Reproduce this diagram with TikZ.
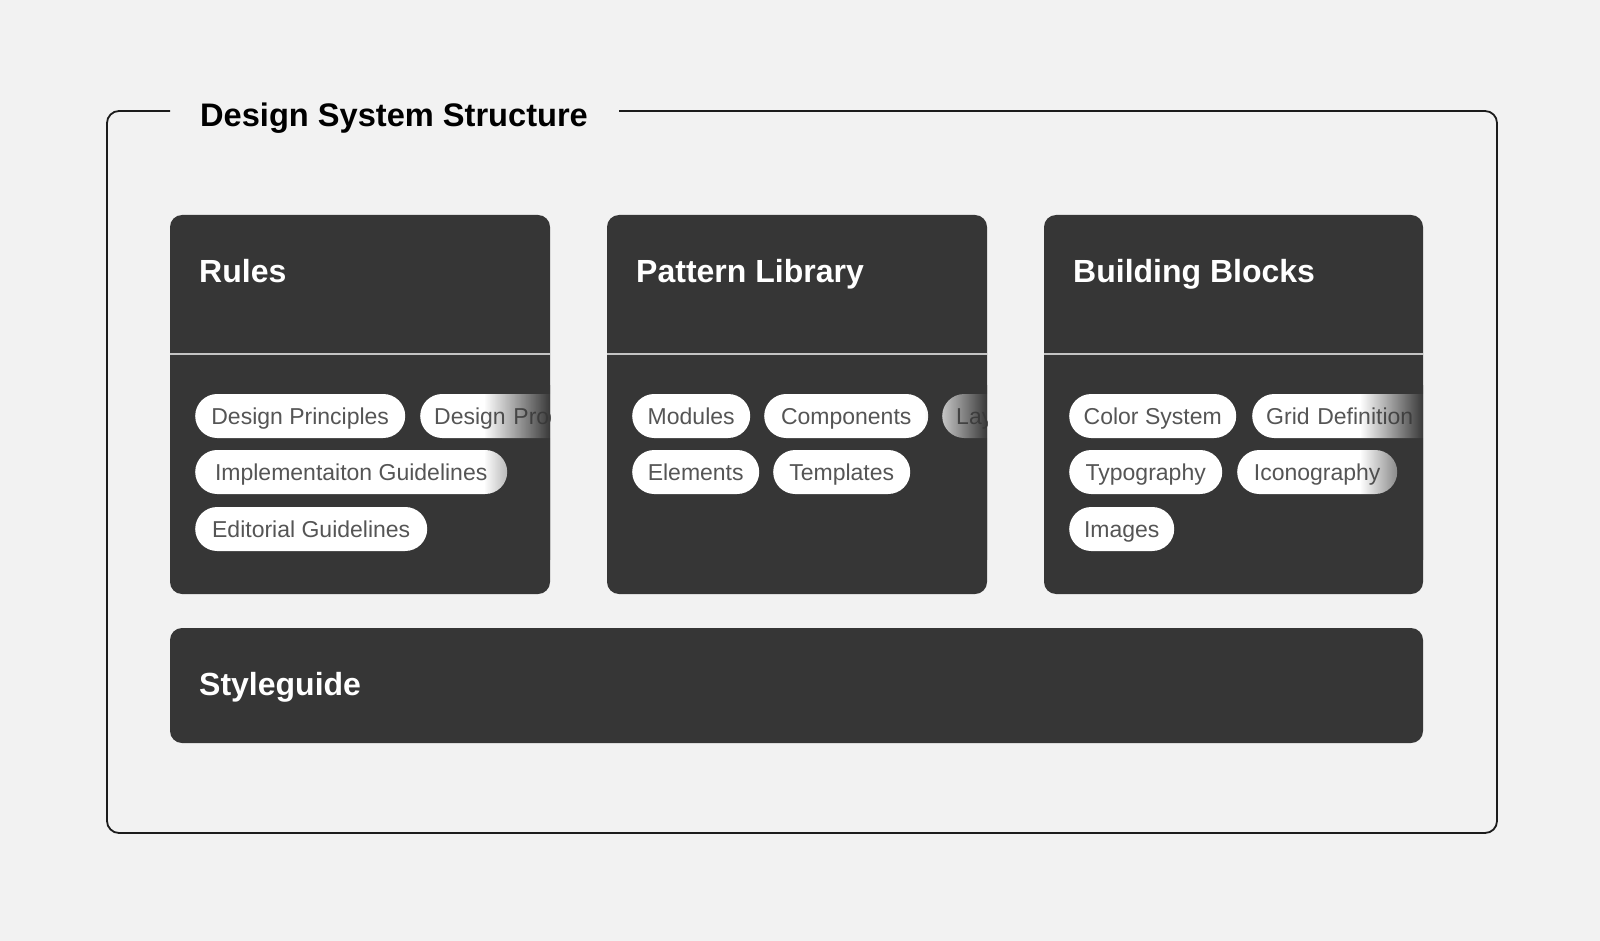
\documentclass[tikz,border=0pt]{standalone}
\usepackage{fontspec}
\setmainfont{Liberation Sans}
\usetikzlibrary{fadings}
\definecolor{bgc}{HTML}{F2F2F2}
\definecolor{cardc}{HTML}{363636}
\definecolor{pilltxt}{HTML}{555555}
\definecolor{divc}{HTML}{C4C4C4}
\definecolor{framec}{HTML}{1C1C1C}
\tikzfading[name=fadein, left color=transparent!100, right color=transparent!0]
\begin{document}
\begin{tikzpicture}[x=1pt,y=-1pt,
 card/.style={fill=cardc, rounded corners=12pt},
 divider/.style={draw=divc, line width=1.5pt},
 pill/.style={draw=none, fill=white, rounded corners=22pt, anchor=west, minimum height=44pt,
   inner xsep=14pt, inner ysep=0pt, text height=16.5pt, text depth=0pt, text=pilltxt,
   font=\fontsize{23}{27}\selectfont},
 cutpill/.style={pill, text width=#1, align=left},
 head/.style={anchor=base west, text=white, font=\bfseries\fontsize{32}{38}\selectfont, inner sep=0pt},
 fadebox/.style={fill=cardc, path fading=fadein},
]
\fill[bgc] (0,0) rectangle (1600,941);
\useasboundingbox (0,0) rectangle (1600,941);

% outer frame with gap for title
\draw[framec, line width=1.8pt, rounded corners=12pt]
  (170,111) -| (107,833) -| (1497,111) -- (619,111);
\node[anchor=base west, inner sep=0pt, text=black, font=\bfseries\fontsize{32.6}{40}\selectfont]
  (title) at (200,127) {Design System Structure};

% ---------- Rules ----------
\fill[card] (170,215) rectangle (550,594);
\draw[divider] (170,354) -- (550,354);
\node[head] (rules) at (199,283) {Rules};
\begin{scope}
\clip (170,360) rectangle (550,594);
\node[pill, minimum width=210pt] (r1) at (195,416) {Design Principles};
\node[cutpill=170pt] (r2) at (420,416) {Design Process};
\node[pill, minimum width=312pt] (r3) at (195,472) {Implementaiton Guidelines};
\node[pill, minimum width=232pt] (r4) at (195,529) {Editorial Guidelines};
\fill[fadebox] (484,385) rectangle (551,560);
\end{scope}

% ---------- Pattern Library ----------
\fill[card] (607,215) rectangle (987,594);
\draw[divider] (607,354) -- (987,354);
\node[head] (pattern) at (636,283) {Pattern Library};
\begin{scope}
\clip (607,360) rectangle (987,594);
\node[pill, minimum width=118pt] (p1) at (632,416) {Modules};
\node[pill, minimum width=164pt] (p2) at (764,416) {Components};
\node[cutpill=100pt] (p3) at (942,416) {Layouts};
\node[pill, minimum width=127pt] (p4) at (632,472) {Elements};
\node[pill, minimum width=137pt] (p5) at (773,472) {Templates};
\fill[fadebox] (924,385) rectangle (988,560);
\end{scope}

% ---------- Building Blocks ----------
\fill[card] (1044,215) rectangle (1423,594);
\draw[divider] (1044,354) -- (1423,354);
\node[head] (blocks) at (1073,283) {Building Blocks};
\begin{scope}
\clip (1044,360) rectangle (1423,594);
\node[pill, minimum width=167pt] (b1) at (1069,416) {Color System};
\node[cutpill=180pt] (b2) at (1252,416) {Grid Definition};
\node[pill, minimum width=153pt] (b3) at (1069,472) {Typography};
\node[pill, minimum width=160pt] (b4) at (1237,472) {Iconography};
\node[pill, minimum width=105pt] (b5) at (1069,529) {Images};
\fill[fadebox] (1360,385) rectangle (1424,560);
\end{scope}

% ---------- Styleguide ----------
\fill[card] (170,628) rectangle (1423,743);
\node[head] (style) at (199,695) {Styleguide};
\end{tikzpicture}
\end{document}
